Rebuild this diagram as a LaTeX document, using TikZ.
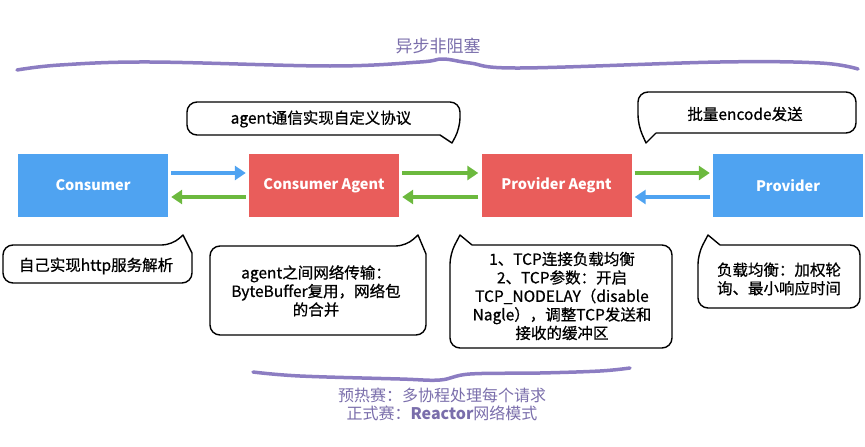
\documentclass[tikz,border=0pt]{standalone}
\usepackage{fontspec}
\setmainfont{Noto Sans CJK SC}
\newfontfamily\calloutfont{Noto Sans CJK SC}[FakeBold=0.7]
\usetikzlibrary{arrows.meta,calc}
\definecolor{boxblue}{HTML}{4FA3F1}
\definecolor{boxred}{HTML}{E95D5B}
\definecolor{arrgreen}{HTML}{6CB93E}
\definecolor{wave}{HTML}{8C7DC2}
\definecolor{wavetext}{HTML}{7A6EAB}
\begin{document}
\begin{tikzpicture}[x=1pt,y=-1pt,
  box/.style={minimum width=150pt,minimum height=63pt,inner sep=0pt,text=white,font=\fontsize{14.5}{16}\selectfont\bfseries},
  flow/.style={line width=3.5pt,-{Triangle[length=11pt,width=14pt]},shorten >=3pt,shorten <=3pt},
  bubble/.style={line width=1.4pt,rounded corners=10pt,line join=round},
  btext/.style={font=\calloutfont\fontsize{15.5}{18.5}\selectfont,align=center,inner sep=0pt},
  wavy/.style={wave,line width=3.5pt,line cap=round},
  wtext/.style={text=wavetext,align=center,inner sep=0pt}]
\useasboundingbox (0,0) rectangle (865,447);

% title and top stroke
\node[wtext,font=\fontsize{17}{20}\selectfont] (title) at (438,46) {异步非阻塞};
\draw[wavy] plot[smooth,tension=0.6] coordinates {(17,70) (60,65) (150,62) (330,66) (420,62) (443,59) (470,63) (520,68) (720,62) (820,63) (858,69)};

% boxes
\node[box,fill=boxblue] (cons) at (93,185.5) {Consumer};
\node[box,fill=boxred] (ca) at (324,185.5) {Consumer Agent};
\node[box,fill=boxred] (pa) at (556.5,185.5) {Provider Aegnt};
\node[box,fill=boxblue] (prov) at (788,185.5) {Provider};

% arrows
\draw[flow,boxblue] ([yshift=12.5pt]cons.east) -- ([yshift=12.5pt]ca.west);
\draw[flow,arrgreen] ([yshift=-11.5pt]ca.west) -- ([yshift=-11.5pt]cons.east);
\draw[flow,arrgreen] ([yshift=12.5pt]ca.east) -- ([yshift=12.5pt]pa.west);
\draw[flow,arrgreen] ([yshift=-11.5pt]pa.west) -- ([yshift=-11.5pt]ca.east);
\draw[flow,arrgreen] ([yshift=12.5pt]pa.east) -- ([yshift=12.5pt]prov.west);
\draw[flow,boxblue] ([yshift=-11.5pt]prov.west) -- ([yshift=-11.5pt]pa.east);

% bubble 1
\draw[bubble] (440,135) -| (187,102) -| (460,128) [sharp corners] -- (452,143) -- (440,135);
\node[btext] (b1) at (321,119) {agent通信实现自定义协议};

% bubble 2
\draw[bubble] (656,133) -| (856,92) -| (638,125) [sharp corners] -- (646,143) -- (656,133);
\node[btext] (b2) at (745,114) {批量encode发送};

% bubble 3
\draw[bubble] (192,253) |- (3,283) |- (172,245) [sharp corners] -- (183,235) -- (192,253);
\node[btext] (b3) at (96,266) {自己实现http服务解析};

% bubble 4
\draw[bubble] (426,254) |- (210,335) |- (406,246) [sharp corners] -- (418,235) -- (426,254);
\node[btext] (b4) at (316,291) {agent之间网络传输：\\ByteBuffer复用，网络包\\的合并};

% bubble 5
\draw[bubble] (472,245) -| (672,348) -| (450,254) [sharp corners] -- (460,235) -- (472,245);
\node[btext] (b5) at (562,296) {1、TCP连接负载均衡\\2、TCP参数：开启\\TCP\_NODELAY（disable\\Nagle），调整TCP发送和\\接收的缓冲区};

% bubble 6
\draw[bubble] (720,245) -| (860,308) -| (698,254) [sharp corners] -- (708,235) -- (720,245);
\node[btext] (b6) at (779,279) {负载均衡：加权轮\\询、最小响应时间};

% bottom stroke and note
\draw[wavy] plot[smooth,tension=0.6] coordinates {(253,372) (300,376) (400,379) (440,380) (470,374) (540,373) (600,371) (630,368)};
\node[wtext,font=\fontsize{16}{18}\selectfont] (note) at (442,404) {预热赛：多协程处理每个请求\\正式赛：\textbf{Reactor}网络模式};
\end{tikzpicture}
\end{document}
